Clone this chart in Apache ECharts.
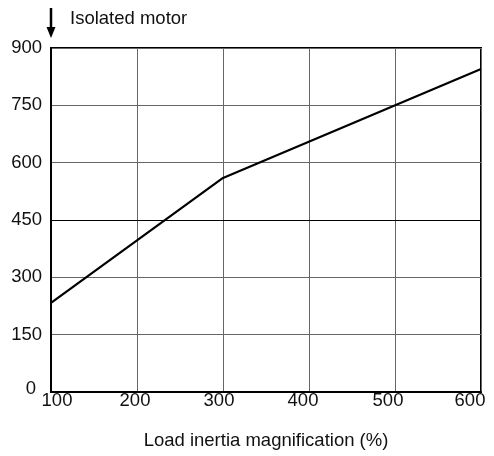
<!DOCTYPE html>
<html>
<head>
<meta charset="utf-8">
<script src="https://cdn.jsdelivr.net/npm/echarts@6/dist/echarts.min.js"></script>
<style>html,body{margin:0;padding:0;background:#fff}#c{width:494px;height:456px}</style>
</head>
<body>
<div id="c"></div>
<script>
const xValues = [100, 300, 600];
const yValues = [233, 560, 845];
const xTicks = [100, 200, 300, 400, 500, 600];
const yTicks = [0, 150, 300, 450, 600, 750, 900];
const xTitle = 'Load inertia magnification (%)';
const annotation = 'Isolated motor';

// label nudges (styling only), in px
const xLabelShift = {100: 6, 200: -2, 300: -4, 400: -6, 500: -7, 600: -11};

const font = 'Liberation Sans, Arial, sans-serif';
const fs = 18.5;
const xRich = {};
Object.keys(xLabelShift).forEach(k => {
  const d = xLabelShift[k];
  xRich['o' + k] = {fontFamily: font, fontSize: fs, color: '#111',
    padding: d > 0 ? [0, 0, 0, 2 * d] : [0, -2 * d, 0, 0]};
});

const chart = echarts.init(document.getElementById('c'), null, {renderer: 'canvas'});
chart.setOption({
  animation: false,
  backgroundColor: '#fff',
  grid: {left: 51, right: 13, top: 48, bottom: 64, outerBoundsMode: 'none', containLabel: false,
    show: true, borderColor: '#000', borderWidth: 2, backgroundColor: 'transparent'},
  xAxis: {
    type: 'value', min: xTicks[0], max: xTicks[xTicks.length - 1], interval: 100,
    name: xTitle, nameLocation: 'middle', nameGap: 39,
    nameTextStyle: {fontFamily: font, fontSize: fs, color: '#111'},
    axisLine: {show: true, lineStyle: {color: '#000', width: 2}},
    axisTick: {show: false},
    axisLabel: {fontFamily: font, fontSize: fs, color: '#111', margin: -1,
      formatter: v => xLabelShift[v] !== undefined ? '{o' + v + '|' + v + '}' : String(v),
      rich: xRich},
    splitLine: {show: true, lineStyle: {color: '#666', width: 1}}
  },
  yAxis: {
    type: 'value', min: yTicks[0], max: yTicks[yTicks.length - 1], interval: 150,
    axisLine: {show: true, lineStyle: {color: '#000', width: 2}},
    axisTick: {show: false},
    axisLabel: {fontFamily: font, fontSize: fs, color: '#111', margin: 9,
      formatter: v => v === 0 ? '{z|0}' : String(v),
      rich: {z: {fontFamily: font, fontSize: fs, color: '#111', padding: [0, 6, 6, 0]}}},
    splitLine: {show: true, lineStyle: {color: '#666', width: 1}}
  },
  series: [{
    type: 'line',
    data: xValues.map((x, i) => [x, yValues[i]]),
    symbol: 'none',
    lineStyle: {color: '#000', width: 2.2},
    markLine: {
      silent: true, symbol: 'none', label: {show: false},
      lineStyle: {color: '#000', width: 1, type: 'solid'},
      data: [{yAxis: 450}]
    }
  }],
  graphic: [
    {type: 'line', shape: {x1: 51, y1: 8, x2: 51, y2: 30}, style: {stroke: '#000', lineWidth: 2.5}},
    {type: 'polygon', shape: {points: [[46.5, 27], [55.5, 27], [51, 38]]}, style: {fill: '#000'}},
    {type: 'text', left: 70, top: 9, style: {text: annotation, font: fs + 'px ' + font, fill: '#111'}}
  ]
});
</script>
</body>
</html>
